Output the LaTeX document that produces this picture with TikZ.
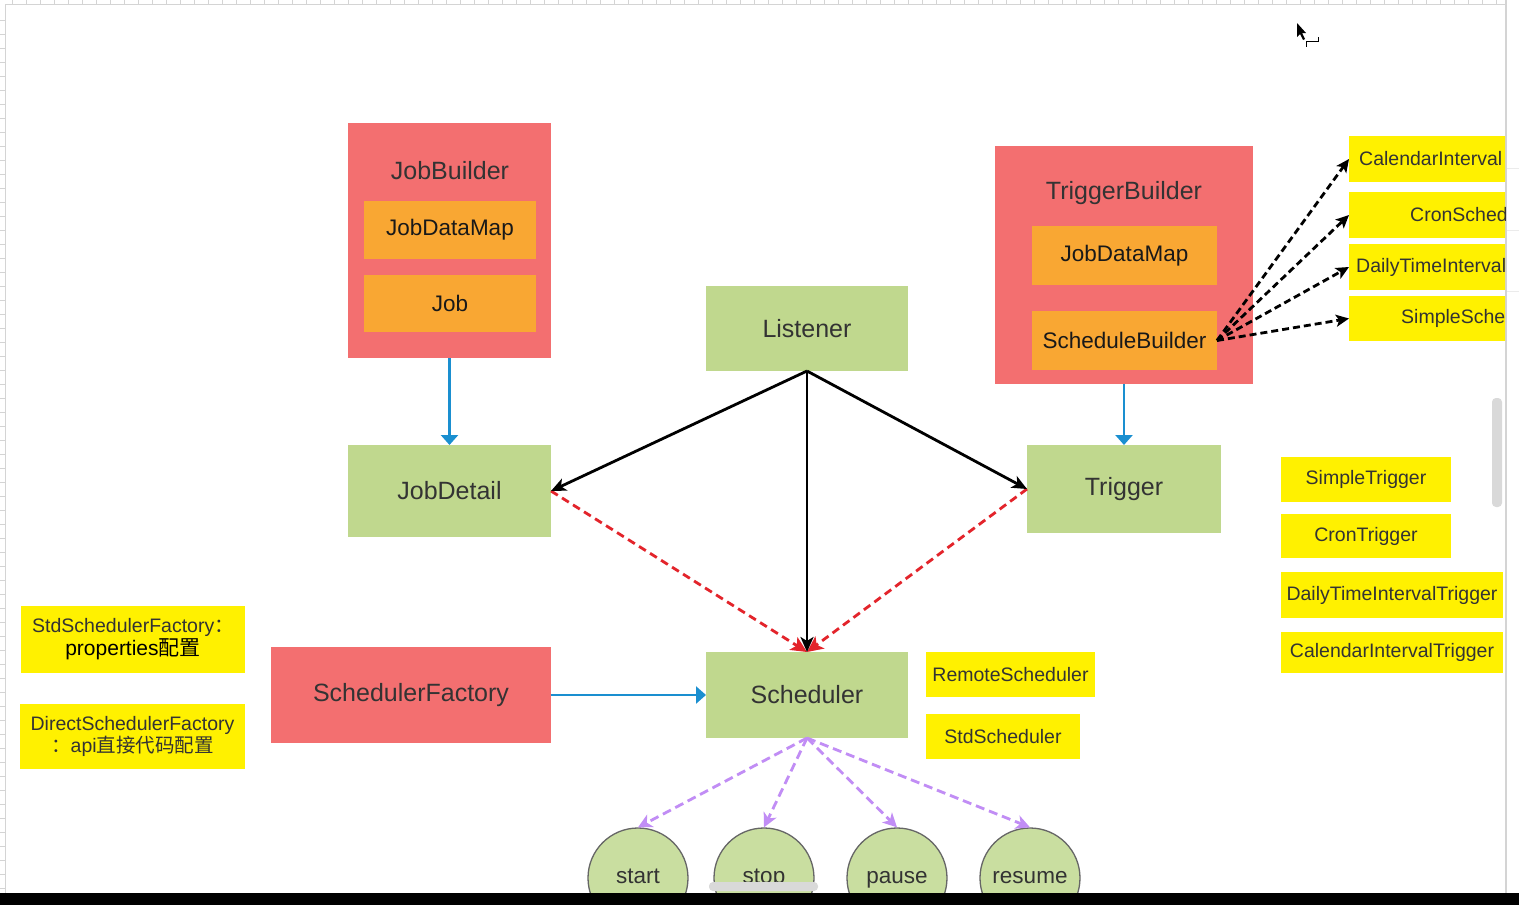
\documentclass[tikz,border=0pt]{standalone}
\usepackage{fontspec}
\setmainfont{Liberation Sans}
\newfontfamily\cjk{Noto Sans CJK SC}
\usetikzlibrary{arrows.meta}
\definecolor{redbox}{HTML}{F36F70}
\definecolor{orangebox}{HTML}{F9A733}
\definecolor{greenbox}{HTML}{C0D88E}
\definecolor{greencirc}{HTML}{C9DEA0}
\definecolor{yellowbox}{HTML}{FFF100}
\definecolor{txt}{HTML}{333333}
\definecolor{bluearrow}{HTML}{1A8FD0}
\definecolor{redarrow}{HTML}{E3242B}
\definecolor{purplearrow}{HTML}{C18DF5}
\definecolor{rulergray}{HTML}{D4D4D4}
\begin{document}
\begin{tikzpicture}[x=1pt,y=-1pt,
  rect/.style={inner sep=0pt,outer sep=0pt,draw=none},
  redrect/.style={rect,fill=redbox},
  orangerect/.style={rect,fill=orangebox,text=black!90,font=\fontsize{22.5}{27}\selectfont},
  greenrect/.style={rect,fill=greenbox,text=txt,font=\fontsize{25}{30}\selectfont},
  yellowrect/.style={rect,fill=yellowbox,text=txt,font=\fontsize{19.5}{24}\selectfont},
  titletext/.style={inner sep=0pt,text=txt,font=\fontsize{25}{30}\selectfont},
  cuttext/.style={inner sep=0pt,anchor=west,text=txt,font=\fontsize{19.5}{24}\selectfont},
  opcircle/.style={circle,minimum size=100pt,inner sep=0pt,text height=16pt,text depth=5pt,fill=greencirc,draw=black!60,line width=1.3pt,text=txt,font=\fontsize{22.5}{27}\selectfont},
  bluearr/.style={draw=bluearrow,line width=2.6pt,-{Triangle[length=10pt,width=17pt]}},
  blackarr/.style={draw=black,line width=2.8pt,-{Stealth[length=15pt,width=13pt,inset=4pt]}},
  reddash/.style={draw=redarrow,line width=2.8pt,dash pattern=on 8pt off 5pt,-{Stealth[length=16pt,width=15pt,inset=4pt,fill=redarrow]}},
  purpledash/.style={draw=purplearrow,line width=2.8pt,dash pattern=on 9pt off 5pt,-{Stealth[length=14pt,width=14pt,inset=4pt]}},
  blackdash/.style={draw=black,line width=2.8pt,dash pattern=on 7pt off 4pt,-{Stealth[length=13pt,width=12pt,inset=3pt]}}
]
\useasboundingbox (0,0) rectangle (1519,905);
\fill[white] (0,0) rectangle (1519,905);

% ruler
\draw[rulergray,line width=1pt] (5,4) -- (1506,4);
\draw[rulergray,line width=1pt] (5,4) -- (5,893);
\foreach \i in {0,...,106} { \draw[rulergray,line width=0.8pt] (12+14*\i,0) -- (12+14*\i,4); }
\foreach \i in {0,...,62} { \draw[rulergray,line width=0.8pt] (0,20+14*\i) -- (5,20+14*\i); }
% right border
\draw[rulergray,line width=1.2pt] (1506,0) -- (1506,893);
\foreach \yy in {168,230,291} { \draw[black!8,line width=0.8pt] (1507,\yy) -- (1519,\yy); }

\begin{scope}
\clip (5,4) rectangle (1505,893);

% JobBuilder group
\node[redrect,minimum width=203pt,minimum height=235pt] (jb) at (449.5,240.5) {};
\node[titletext] (jbt) at (450,171) {JobBuilder};
\node[orangerect,minimum width=172pt,minimum height=58pt] (jdm1) at (450,230) {JobDataMap};
\node[orangerect,minimum width=172pt,minimum height=57pt] (job) at (450,303.5) {Job};

\node[greenrect,minimum width=203pt,minimum height=92pt] (jd) at (449.5,491) {JobDetail};
\node[greenrect,minimum width=202pt,minimum height=85pt] (lis) at (807,328.5) {Listener};

% TriggerBuilder group
\node[redrect,minimum width=258pt,minimum height=238pt] (tb) at (1124,265) {};
\node[titletext] (tbt) at (1124,193) {TriggerBuilder};
\node[orangerect,minimum width=185pt,minimum height=59pt] (jdm2) at (1124.5,255.5) {JobDataMap};
\node[orangerect,minimum width=185pt,minimum height=59pt] (sb) at (1124.5,340.5) {ScheduleBuilder};

\node[greenrect,minimum width=194pt,minimum height=88pt] (trg) at (1124,489) {Trigger};
\node[greenrect,minimum width=202pt,minimum height=86pt] (sch) at (807,695) {Scheduler};
\node[redrect,text=txt,font=\fontsize{25}{30}\selectfont,minimum width=280pt,minimum height=96pt] (sf) at (411,695) {SchedulerFactory};

% yellow boxes left
\node[yellowrect,align=center,minimum width=224pt,minimum height=67pt] (ssf) at (133,639.5)
  {StdSchedulerFactory{\cjk ：}\\[-1pt]{\fontsize{21}{24}\selectfont\color{black}properties{\cjk 配置}}};
\node[yellowrect,align=center,minimum width=225pt,minimum height=65pt] (dsf) at (132.5,736.5)
  {DirectSchedulerFactory\\[-2pt]{\cjk ：}api{\cjk 直接代码配置}};

% scheduler implementations
\node[yellowrect,minimum width=169pt,minimum height=45pt] (rs) at (1010.5,674.5) {RemoteScheduler};
\node[yellowrect,minimum width=154pt,minimum height=45pt] (ss) at (1003,736.5) {StdScheduler};

% trigger implementations
\node[yellowrect,minimum width=170pt,minimum height=45pt] (st) at (1366,479.5) {SimpleTrigger};
\node[yellowrect,minimum width=170pt,minimum height=44pt] (ct) at (1366,536) {CronTrigger};
\node[yellowrect,minimum width=222pt,minimum height=46pt] (dt) at (1392,595) {DailyTimeIntervalTrigger};
\node[yellowrect,minimum width=222pt,minimum height=41pt] (cit) at (1392,652.5) {CalendarIntervalTrigger};

% schedule builders (cut at the canvas edge)
\node[yellowrect,minimum width=170pt,minimum height=46pt] (b1) at (1434,159) {};
\node[yellowrect,minimum width=170pt,minimum height=46pt] (b2) at (1434,215) {};
\node[yellowrect,minimum width=170pt,minimum height=46pt] (b3) at (1434,267) {};
\node[yellowrect,minimum width=170pt,minimum height=45pt] (b4) at (1434,318.5) {};
\node[cuttext] (b1t) at (1359,159) {CalendarInterval};
\node[cuttext] (b2t) at (1410,215) {CronSched};
\node[cuttext] (b3t) at (1356,267) {DailyTimeInterval};
\node[cuttext] (b4t) at (1401,318.5) {SimpleSche};

% operations
\node[opcircle] (start) at (638,878) {start};
\node[opcircle] (stop) at (764,878) {stop};
\node[opcircle] (pause) at (897,878) {pause};
\node[opcircle] (resume) at (1030,878) {resume};

% connectors
\draw[bluearr] (jb.south) -- (jd.north);
\draw[bluearr] (tb.south) -- (trg.north);
\draw[bluearr] (sf.east) -- (sch.west);

\draw[reddash] (jd.east) -- (sch.north);
\draw[reddash] (trg.west) -- (sch.north);
\draw[blackarr] (lis.south) -- (jd.east);
\draw[blackarr] (lis.south) -- (trg.west);
\draw[blackarr] (lis.south) -- (sch.north);

\draw[blackdash] (sb.east) -- (b1.west);
\draw[blackdash] (sb.east) -- (b2.west);
\draw[blackdash] (sb.east) -- (b3.west);
\draw[blackdash] (sb.east) -- (b4.west);

\draw[purpledash] (sch.south) -- (start.north);
\draw[purpledash] (sch.south) -- (stop.north);
\draw[purpledash] (sch.south) -- (pause.north);
\draw[purpledash] (sch.south) -- (resume.north);
\end{scope}

% scrollbars
\fill[black!15,rounded corners=4pt] (1492,398) rectangle (1502,507);
\fill[black!15,rounded corners=4pt] (709,882) rectangle (818,891);
% cursor
\fill[black] (1297,23) -- (1297,37) -- (1300,34) -- (1303,40) -- (1305,39) -- (1302,33) -- (1306,33) -- cycle;
\draw[black,line width=1pt] (1318,37) -- (1318,41) -- (1306,41) -- (1306,47);
% bottom bar
\fill[black] (0,893) rectangle (1519,905);
\end{tikzpicture}
\end{document}
